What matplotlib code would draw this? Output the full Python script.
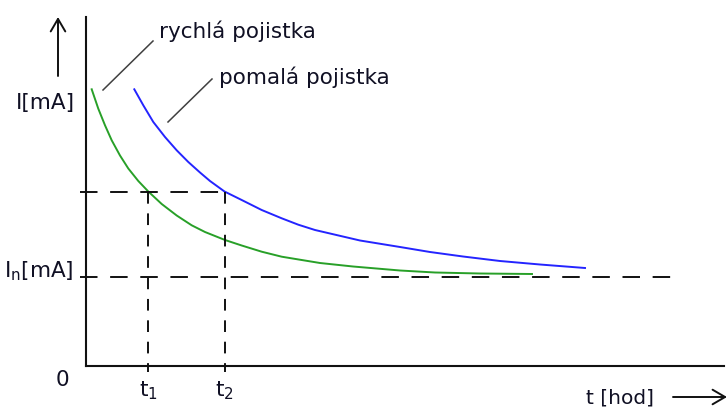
import matplotlib.pyplot as plt

plt.rcParams['font.family'] = ['DejaVu Sans']
plt.rcParams['mathtext.default'] = 'regular'

# odečtené body charakteristik (t, I) v relativních jednotkách
t_rychla = [0.057, 0.123, 0.19, 0.257, 0.34, 0.423, 0.523, 0.623, 0.757,
            0.907, 1.057, 1.19, 1.39, 1.557, 1.757, 1.957, 2.157, 2.34,
            2.67, 3.14, 3.49, 3.94, 4.46]
i_rychla = [2.767, 2.573, 2.407, 2.257, 2.105, 1.975, 1.85, 1.745, 1.62,
            1.505, 1.407, 1.34, 1.26, 1.205, 1.143, 1.093, 1.06, 1.03,
            0.995, 0.955, 0.935, 0.925, 0.92]

t_pomala = [0.483, 0.573, 0.673, 0.79, 0.907, 1.023, 1.14, 1.24, 1.385,
            1.557, 1.757, 1.957, 2.123, 2.29, 2.74, 3.14, 3.44, 3.77,
            4.14, 4.54, 4.99]
i_pomala = [2.767, 2.607, 2.44, 2.29, 2.157, 2.04, 1.935, 1.85, 1.745,
            1.66, 1.56, 1.477, 1.413, 1.36, 1.255, 1.19, 1.14, 1.095,
            1.05, 1.015, 0.98]

t1, t2 = 0.623, 1.385    # časy vypnutí
I1 = 1.745               # zkušební proud
In = 0.89                # jmenovitý proud

txt = '#101024'
fs = 15.5

fig = plt.figure(figsize=(7.28, 4.09), dpi=100)
ax = fig.add_axes([86 / 728, 43 / 409, 638 / 728, 349 / 409])
ax.set_xlim(0, 6.38)
ax.set_ylim(0, 3.49)
for s in ('top', 'right'):
    ax.spines[s].set_visible(False)
for s in ('left', 'bottom'):
    ax.spines[s].set_linewidth(1.5)
    ax.spines[s].set_color('#111111')
ax.set_xticks([])
ax.set_yticks([])

# charakteristiky
ax.plot(t_rychla, i_rychla, color='#28a028', lw=1.4, solid_joinstyle='round')
ax.plot(t_pomala, i_pomala, color='#2424ff', lw=1.4, solid_joinstyle='round')

# pomocné čárkované čáry
kw_h = dict(color='#111111', lw=1.4, dashes=(9, 6.5), clip_on=False)
kw_v = dict(color='#111111', lw=1.4, dashes=(6, 5), clip_on=False)
ax.plot([-0.06, 5.94], [In, In], **kw_h)
ax.plot([-0.06, t2], [I1, I1], **kw_h)
ax.plot([t1, t1], [I1, -0.06], **kw_v)
ax.plot([t2, t2], [I1, -0.06], **kw_v)

# popisky křivek s odkazovými čarami
ax.plot([0.17, 0.67], [2.76, 3.25], color='#404040', lw=1.1)
ax.plot([0.82, 1.26], [2.44, 2.87], color='#404040', lw=1.1)
ax.text(0.73, 3.35, 'rychlá pojistka', fontsize=fs, color=txt,
        ha='left', va='center')
ax.text(1.33, 2.89, 'pomalá pojistka', fontsize=fs, color=txt,
        ha='left', va='center')

# popisky os
ax.text(-0.11, 2.63, 'I[mA]', fontsize=fs, color=txt, ha='right', va='center')
ax.text(-0.13, 0.945, 'I$_{n}$[mA]', fontsize=fs, color=txt,
        ha='right', va='center')
ax.text(-0.24, -0.14, '0', fontsize=fs, color=txt, ha='center', va='center')
ax.text(t1, -0.25, 't$_1$', fontsize=fs, color=txt, ha='center', va='center')
ax.text(t2, -0.25, 't$_2$', fontsize=fs, color=txt, ha='center', va='center')
ax.text(5.34, -0.32, 't [hod]', fontsize=14.5, color=txt,
        ha='center', va='center')

# šipky
arr = dict(arrowstyle='->,head_length=0.6,head_width=0.35', color='#111111',
           lw=1.4, shrinkA=0, shrinkB=0, mutation_scale=15)
ax.annotate('', xy=(-0.28, 3.49), xytext=(-0.28, 2.9), arrowprops=arr,
            annotation_clip=False)
ax.annotate('', xy=(6.41, -0.31), xytext=(5.87, -0.31), arrowprops=arr,
            annotation_clip=False)

fig.savefig('out.png', dpi=100)
